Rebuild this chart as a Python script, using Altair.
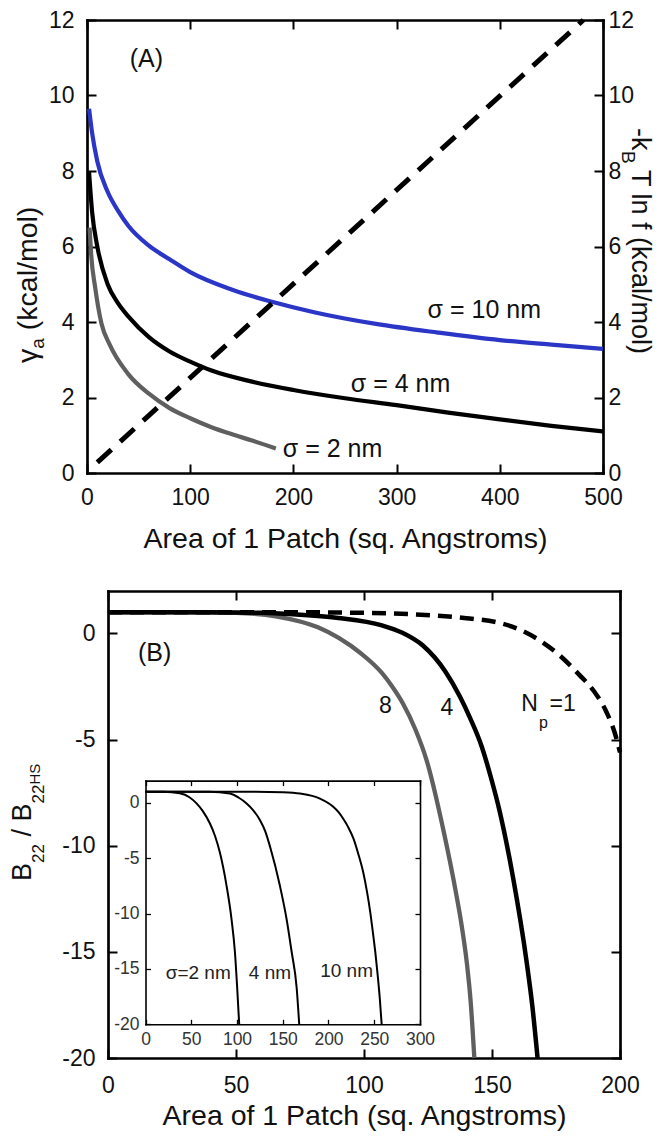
import altair as alt
import pandas as pd

W, H = 650, 1124
FONT = "Liberation Sans"

# ---------------- Panel A : gamma_a vs area of one patch ----------------
a10_x = [2, 5, 10, 20, 30, 40, 60, 80, 100, 140, 180, 220, 280, 340, 400, 450, 500]
a10_y = [9.65, 9.0, 8.25, 7.45, 6.95, 6.55, 6.02, 5.66, 5.32, 4.86, 4.53, 4.26, 3.95, 3.72, 3.52, 3.40, 3.29]
a4_x = [2, 5, 10, 20, 30, 40, 60, 80, 100, 120, 160, 200, 250, 300, 350, 400, 450, 500]
a4_y = [7.97, 6.9, 6.0, 5.0, 4.5, 4.15, 3.6, 3.22, 2.95, 2.72, 2.42, 2.2, 1.98, 1.8, 1.6, 1.42, 1.25, 1.1]
a2_x = [2.5, 4, 8, 14, 22, 40, 60, 80, 100, 120, 140, 160, 183]
a2_y = [6.5, 5.8, 4.9, 3.96, 3.4, 2.62, 2.1, 1.72, 1.45, 1.22, 1.03, 0.86, 0.65]
adash_x = [10, 481]
adash_y = [0.28, 12.0]
a_ticks_x = [0, 100, 200, 300, 400, 500]
a_ticks_y = [0, 2, 4, 6, 8, 10, 12]
a_lab_x = [57.5, 330, 255.6, 189.7]
a_lab_y = [10.98, 4.32, 2.37, 0.64]
a_lab_t = ["(A)", "σ = 10 nm", "σ = 4 nm", "σ = 2 nm"]

# ---------------- Panel B : B22 / B22HS vs area ----------------
b8_x = [0, 30, 50, 65.5, 82, 90.3, 98.6, 106.9, 111, 115.2, 120, 124.4, 130.9, 136.1, 138.2, 140.1, 141.7, 143.1]
b8_y = [1.0, 1.0, 0.97, 0.81, 0.29, -0.22, -0.92, -1.85, -2.5, -3.3, -4.5, -5.95, -9.2, -12.33, -13.8, -15.45, -17.4, -20]
b4_x = [0, 40, 60, 75, 90, 107, 115, 123, 131.7, 137.4, 141.5, 145.9, 149.5, 153.1, 158.3, 163.5, 165.8, 167.8]
b4_y = [1.0, 1.0, 0.97, 0.88, 0.73, 0.38, 0.03, -0.57, -1.78, -2.96, -4.0, -5.3, -6.75, -8.43, -11.55, -15.45, -17.6, -20]
b1_x = [0, 70, 100, 120, 140, 152.8, 160.6, 168.4, 176.2, 184.1, 189.7, 194.7, 198, 200]
b1_y = [1.0, 1.0, 0.97, 0.9, 0.72, 0.5, 0.19, -0.31, -1.01, -1.95, -2.7, -3.7, -4.7, -5.6]
b_ticks_x = [0, 50, 100, 150, 200]
b_ticks_y = [0, -5, -10, -15, -20]
b_lab_x = [18.2, 108.4, 132.4, 161.4, 172.5]
b_lab_y = [-0.9, -3.4, -3.49, -3.32, -3.32]
b_lab_t = ["(B)", "8", "4", "N", "=1"]
b_sub_x = [168.4]
b_sub_y = [-4.2]
b_sub_t = ["p"]

# ---------------- Inset ----------------
i2_x = [0, 20, 37.5, 48, 55.8, 63, 70.3, 76, 81.3, 88.6, 94, 97.7, 100.2, 102.4]
i2_y = [1, 1, 0.85, 0.5, -0.06, -0.8, -1.85, -3.0, -4.5, -7.5, -10.5, -13.45, -16.7, -20]
i4_x = [0, 70, 92.2, 102, 110.5, 118, 125, 131, 136, 146.9, 154.2, 159.7, 165.2, 168]
i4_y = [1, 1, 0.83, 0.45, -0.06, -0.7, -1.55, -2.6, -3.93, -7.5, -10.5, -13.45, -16.7, -20]
i10_x = [0, 120, 150, 168.8, 190.6, 205.2, 211, 216.1, 221.5, 227.1, 232.5, 238, 242, 245.5, 248.5, 251.3, 253.8, 256, 258.1]
i10_y = [1, 1, 0.95, 0.83, 0.38, -0.36, -0.85, -1.45, -2.2, -3.2, -4.6, -6.3, -8.0, -9.8, -11.7, -13.6, -15.6, -17.6, -20]
i_ticks_x = [0, 50, 100, 150, 200, 250, 300]
i_ticks_y = [0, -5, -10, -15, -20]
i_lab_x = [57.6, 136, 219.8]
i_lab_y = [-15.4, -15.4, -15.2]
i_lab_t = ["σ=2 nm", "4 nm", "10 nm"]

X_TITLE = "Area of 1 Patch (sq. Angstroms)"

# ---------------- layout (pixels inside the canvas) ----------------
A_L, A_R, A_T, A_B = 79, 595, 12, 465
B_L, B_R, B_T, B_B = 100, 612, 583, 1050
I_L, I_R, I_T, I_B = 137.5, 412, 772.6, 1016.3


def sc(domain, rng):
    return alt.Scale(domain=domain, range=rng, nice=False, zero=False)


AX = sc([0, 500], [A_L, A_R]); AY = sc([0, 12], [A_B, A_T])
BX = sc([0, 200], [B_L, B_R]); BY = sc([-20, 2], [B_B, B_T])
IX = sc([0, 300], [I_L, I_R]); IY = sc([-20, 2], [I_B, I_T])

HYPHEN = "replace(datum.label, '\u2212', '-')"


def ax(orient, offset, values, labels=True, pad=22, size=23, tick=9, dw=2.7, tw=2.0,
       lcolor="#111111", **kw):
    d = dict(orient=orient, offset=offset, values=values, labels=labels, grid=False,
             domain=True, domainColor="black", domainWidth=dw, domainCap="square",
             ticks=True, tickSize=alt.ExprRef(expr=str(-tick)), tickWidth=tw, tickColor="black",
             labelPadding=pad, labelFontSize=size, labelFont=FONT, labelColor=lcolor,
             labelFlush=False, labelOverlap=False, labelExpr=HYPHEN)
    d.update(kw)
    return alt.Axis(**d)


def line(x, y, xsc, ysc, color, width, dash=None, xaxis=None, yaxis=None, xtitle=None):
    df = pd.DataFrame({"x": x, "y": y})
    mk = dict(color=color, strokeWidth=width, interpolate="monotone", strokeCap="butt")
    if dash:
        mk["strokeDash"] = dash
    return alt.Chart(df).mark_line(**mk).encode(
        x=alt.X("x:Q", scale=xsc, axis=xaxis, title=xtitle),
        y=alt.Y("y:Q", scale=ysc, axis=yaxis, title=None))


def dtext(x, y, t, xsc, ysc, size, align="left", color="#111111"):
    df = pd.DataFrame({"x": x, "y": y, "t": t})
    return alt.Chart(df).mark_text(fontSize=size, font=FONT, align=align, baseline="middle",
                                   color=color).encode(
        x=alt.X("x:Q", scale=xsc, axis=None),
        y=alt.Y("y:Q", scale=ysc, axis=None),
        text="t:N")


one = pd.DataFrame({"k": [0]})


def ptext(t, x, y, size, angle, align="left", baseline="alphabetic"):
    return alt.Chart(one).mark_text(text=t, fontSize=size, font=FONT, angle=angle, align=align,
                                    baseline=baseline, color="#111111").encode(
        x=alt.value(x), y=alt.value(y))


xt_kw = dict(titleFont=FONT, titleFontSize=28.5, titleFontWeight="normal", titleColor="#111111",
             titleBaseline="middle")

layers = []
# ---- panel A ----
layers.append(line(a10_x, a10_y, AX, AY, "#2b35c6", 4.2,
                   xaxis=ax("bottom", -(H - A_B), a_ticks_x, pad=22.5, titleY=65, **xt_kw),
                   yaxis=ax("left", -A_L, a_ticks_y, pad=22),
                   xtitle=X_TITLE))
layers.append(line(adash_x, adash_y, AX, AY, "black", 5, dash=[19, 12],
                   xaxis=ax("top", -A_T, a_ticks_x, labels=False),
                   yaxis=ax("right", -(W - A_R), a_ticks_y, pad=14)))
layers.append(line(a4_x, a4_y, AX, AY, "black", 4.2))
layers.append(line(a2_x, a2_y, AX, AY, "#5f5f5f", 4.2))
layers.append(dtext(a_lab_x[:1], a_lab_y[:1], a_lab_t[:1], AX, AY, 25, align="center"))
layers.append(dtext(a_lab_x[1:], a_lab_y[1:], a_lab_t[1:], AX, AY, 25))

# ---- panel B ----
layers.append(line(b8_x, b8_y, BX, BY, "#5f5f5f", 4.3,
                   xaxis=ax("bottom", -(H - B_B), b_ticks_x, pad=25, titleY=57, **xt_kw),
                   yaxis=ax("left", -B_L, b_ticks_y, pad=22),
                   xtitle=X_TITLE))
layers.append(line(b4_x, b4_y, BX, BY, "black", 4.5,
                   xaxis=ax("top", -B_T, b_ticks_x, labels=False),
                   yaxis=ax("right", -(W - B_R), b_ticks_y, labels=False)))
layers.append(line(b1_x, b1_y, BX, BY, "black", 4.5, dash=[14, 8]))
layers.append(dtext(b_lab_x[:1], b_lab_y[:1], b_lab_t[:1], BX, BY, 25, align="center"))
layers.append(dtext(b_lab_x[1:3], b_lab_y[1:3], b_lab_t[1:3], BX, BY, 23, align="center"))
layers.append(dtext(b_lab_x[3:], b_lab_y[3:], b_lab_t[3:], BX, BY, 23))
layers.append(dtext(b_sub_x, b_sub_y, b_sub_t, BX, BY, 16))

# ---- inset ----
ikw = dict(size=17.5, tick=5, dw=1.6, tw=1.3, lcolor="#333333")
layers.append(line(i2_x, i2_y, IX, IY, "black", 2.0,
                   xaxis=ax("bottom", -(H - I_B), i_ticks_x, pad=11.5, **ikw),
                   yaxis=ax("left", -I_L, i_ticks_y, pad=11.5, **ikw)))
layers.append(line(i4_x, i4_y, IX, IY, "black", 2.0,
                   xaxis=ax("top", -I_T, i_ticks_x, labels=False, **ikw),
                   yaxis=ax("right", -(W - I_R), i_ticks_y, labels=False, **ikw)))
layers.append(line(i10_x, i10_y, IX, IY, "black", 2.0))
layers.append(dtext(i_lab_x, i_lab_y, i_lab_t, IX, IY, 19, align="center", color="#222222"))

# ---- y titles with sub/superscripts ----
# panel A left: gamma_a (kcal/mol), reading upward
layers.append(ptext("γ", 29, 355, 28.5, 270))
layers.append(ptext("a", 35.5, 340.7, 19, 270))
layers.append(ptext("(kcal/mol)", 29, 322.2, 28.5, 270))
# panel A right: -k_B T ln f (kcal/mol), reading downward
layers.append(ptext("-k", 624, 120, 27, 90))
layers.append(ptext("B", 614, 143, 19, 90))
layers.append(ptext("T ln f (kcal/mol)", 624, 162, 27, 90))
# panel B left: B22 / B22^HS, reading upward
layers.append(ptext("B", 22.5, 873, 27, 270))
layers.append(ptext("22", 36, 855, 17, 270))
layers.append(ptext("/ B", 22.5, 828.5, 27, 270))
layers.append(ptext("22", 36, 795.5, 17, 270))
layers.append(ptext("HS", 31.5, 776.6, 15, 270))

chart = alt.layer(*layers).resolve_scale(x="independent", y="independent").properties(
    width=W, height=H, autosize=alt.AutoSizeParams(type="none"), padding=0
).configure_view(strokeWidth=0)

chart.save("out.html", embed_options={"renderer": "svg", "actions": False})
